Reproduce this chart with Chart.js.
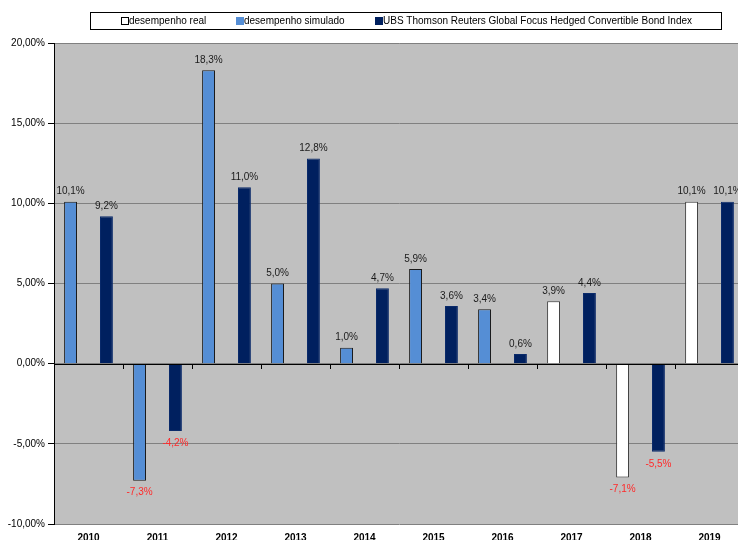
<!DOCTYPE html>
<html>
<head>
<meta charset="utf-8">
<script src="https://cdn.jsdelivr.net/npm/chart.js@4.4.1/dist/chart.umd.min.js"></script>
<style>
html,body{margin:0;padding:0;overflow:hidden;background:#fff;width:738px;height:540px;}
canvas{display:block;}
</style>
</head>
<body>
<canvas id="c" width="746" height="550" style="width:746px;height:550px"></canvas>
<script>
const categories = ['2010','2011','2012','2013','2014','2015','2016','2017','2018','2019'];
const realValues = [null, null, null, null, null, null, null, 3.9, -7.1, 10.1];
const simulatedValues = [10.1, -7.3, 18.3, 5.0, 1.0, 5.9, 3.4, null, null, null];
const indexValues = [9.2, -4.2, 11.0, 12.8, 4.7, 3.6, 0.6, 4.4, -5.5, 10.1];
const seriesNames = ['desempenho real', 'desempenho simulado', 'UBS Thomson Reuters Global Focus Hedged Convertible Bond Index'];
const yTicks = {min: -10, max: 20, step: 5};

const FONT = '"Liberation Sans", Arial, sans-serif';
const fmtPct = v => v.toFixed(1).replace('.', ',') + '%';

const legendPlugin = {
  id: 'boxLegend',
  afterDraw(chart) {
    const ctx = chart.ctx;
    ctx.save();
    ctx.fillStyle = '#ffffff';
    ctx.fillRect(90.5, 12.5, 631, 17);
    ctx.strokeStyle = '#000000';
    ctx.lineWidth = 1;
    ctx.strokeRect(90.5, 12.5, 631, 17);
    ctx.font = '10px ' + FONT;
    ctx.textBaseline = 'middle';
    ctx.textAlign = 'left';
    const xs = [121, 236, 375];
    chart.data.datasets.forEach((ds, i) => {
      const x = xs[i];
      ctx.fillStyle = ds.backgroundColor;
      ctx.fillRect(x + 0.5, 17.5, 7, 7);
      ctx.strokeStyle = ds.legendBorder;
      ctx.strokeRect(x + 0.5, 17.5, 7, 7);
      ctx.fillStyle = '#000000';
      ctx.fillText(ds.label, x + 8, 21.5);
    });
    ctx.restore();
  }
};

const labelPlugin = {
  id: 'valueLabels',
  afterDatasetsDraw(chart) {
    const ctx = chart.ctx;
    ctx.save();
    ctx.font = '10px ' + FONT;
    ctx.textAlign = 'center';
    ctx.textBaseline = 'middle';
    chart.data.datasets.forEach((ds, di) => {
      const meta = chart.getDatasetMeta(di);
      meta.data.forEach((el, i) => {
        const v = ds.data[i];
        if (v === null || v === undefined) return;
        if (v < 0) {
          ctx.fillStyle = '#ff2a2a';
          ctx.fillText(fmtPct(v), el.x, el.y + 12);
        } else {
          ctx.fillStyle = '#1a1a1a';
          ctx.fillText(fmtPct(v), el.x, el.y - 10);
        }
      });
    });
    ctx.restore();
  }
};

const zeroTicksPlugin = {
  id: 'zeroTicks',
  afterDatasetsDraw(chart) {
    const ctx = chart.ctx;
    const y0 = chart.scales.y.getPixelForValue(0);
    const area = chart.chartArea;
    ctx.save();
    ctx.strokeStyle = '#000000';
    ctx.lineWidth = 1;
    ctx.beginPath();
    ctx.moveTo(area.left, Math.round(y0) + 0.5);
    ctx.lineTo(area.right, Math.round(y0) + 0.5);
    const w = (area.right - area.left) / categories.length;
    for (let i = 1; i < categories.length; i++) {
      const x = Math.round(area.left + i * w) + 0.5;
      ctx.moveTo(x, Math.round(y0));
      ctx.lineTo(x, Math.round(y0) + 5);
    }
    ctx.stroke();
    ctx.restore();
  }
};

new Chart(document.getElementById('c'), {
  type: 'bar',
  data: {
    labels: categories,
    datasets: [
      {label: seriesNames[0], data: realValues, stack: 'a', backgroundColor: '#ffffff', borderColor: '#404040', legendBorder: '#000000', borderWidth: 1},
      {label: seriesNames[1], data: simulatedValues, stack: 'a', backgroundColor: '#558ed5', borderColor: '#1a1a1a', legendBorder: '#558ed5', borderWidth: 1},
      {label: seriesNames[2], data: indexValues, stack: 'b', backgroundColor: '#00205f', borderColor: '#0a2a6a', legendBorder: '#00205f', borderWidth: 1}
    ]
  },
  options: {
    responsive: false,
    animation: false,
    devicePixelRatio: 1,
    layout: {padding: {top: 43, left: 0, right: 2, bottom: 0}},
    datasets: {bar: {categoryPercentage: 1.04, barPercentage: 0.36}},
    plugins: {legend: {display: false}, tooltip: {enabled: false}},
    scales: {
      x: {
        grid: {display: false, drawTicks: false, tickLength: 0},
        border: {display: false},
        ticks: {color: '#000000', font: {family: FONT, size: 10, weight: 'bold'}, padding: 8, maxRotation: 0, autoSkip: false},
        afterFit(s) { s.height = 26; }
      },
      y: {
        stacked: true,
        min: yTicks.min,
        max: yTicks.max,
        ticks: {stepSize: yTicks.step, color: '#000000', padding: 3, font: {family: FONT, size: 10},
          callback: v => v.toFixed(2).replace('.', ',') + '%'},
        grid: {color: '#808080', tickColor: '#000000', tickLength: 6, lineWidth: 1},
        border: {display: true, color: '#000000', width: 1},
        afterFit(s) { s.width = 54; }
      }
    }
  },
  plugins: [{
    id: 'plotBg',
    beforeDraw(chart) {
      const a = chart.chartArea;
      chart.ctx.save();
      chart.ctx.fillStyle = '#c0c0c0';
      chart.ctx.fillRect(a.left, a.top, a.right - a.left, a.bottom - a.top);
      chart.ctx.restore();
    }
  }, zeroTicksPlugin, labelPlugin, legendPlugin]
});
</script>
</body>
</html>
